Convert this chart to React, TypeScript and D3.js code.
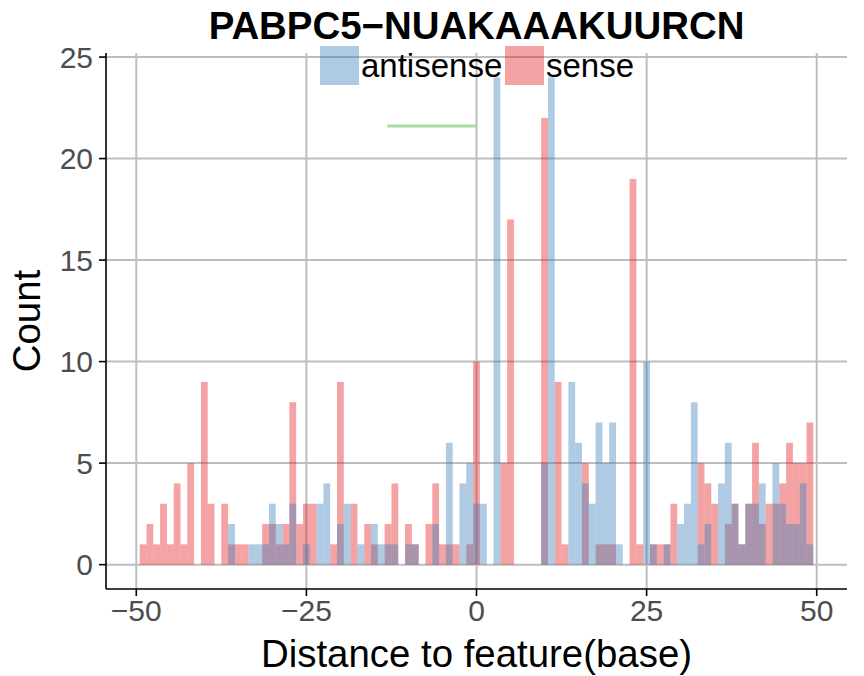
import { useEffect, useRef } from "react"
import * as d3 from "d3"

// bin centres -49 .. 49 (one base per bin)
const binStart = -49
const senseCounts = [
  1, 2, 1, 3, 1, 4, 1, 5, 0, 9, 3, 0, 3, 1, 1, 1, 0, 0, 2, 2, 1, 2, 8, 2, 3, 3, 0, 0, 1, 9, 0, 3, 0, 2, 1, 0, 2, 4, 0, 2, 1, 0, 2, 4, 1, 1, 1, 0, 1,
  10,
  0, 0, 0, 5, 17, 0, 0, 0, 0, 22, 0, 9, 1, 0, 0, 5, 0, 1, 1, 1, 0, 0, 19, 1, 0, 1, 1, 1, 3, 0, 0, 0, 5, 4, 3, 0, 2, 3, 1, 3, 6, 2, 3, 3, 4, 6, 5, 5, 7,
]
const antisenseCounts = [
  0, 0, 0, 0, 0, 0, 0, 0, 0, 0, 0, 0, 0, 2, 0, 0, 1, 1, 1, 3, 2, 1, 3, 0, 1, 0, 3, 4, 0, 2, 3, 0, 1, 0, 2, 1, 1, 1, 0, 1, 1, 0, 0, 2, 0, 6, 0, 4, 5,
  3,
  3, 0, 24, 0, 0, 0, 0, 0, 0, 5, 24, 0, 0, 9, 6, 4, 3, 7, 5, 7, 1, 0, 0, 0, 10, 1, 0, 1, 0, 2, 3, 8, 1, 2, 0, 4, 6, 3, 1, 3, 3, 4, 0, 5, 3, 2, 2, 4, 1,
]
const featureSegment = [{ from: -13.1, to: 0, count: 21.6 }]

const xTicks = [-50, -25, 0, 25, 50]
const yTicks = [0, 5, 10, 15, 20, 25]
const seriesNames = ["antisense", "sense"]
const seriesColors: Record<string, string> = { antisense: "#377EB8", sense: "#E41A1C" }

const fmt = (v: number) => (v < 0 ? "\u2212" + Math.abs(v) : String(v))

export default function App() {
  const svgRef = useRef<SVGSVGElement>(null)

  useEffect(() => {
    if (!svgRef.current) return
    const svg = d3.select(svgRef.current)
    svg.selectAll("*").remove()

    const width = 864
    const height = 676
    const left = 106
    const right = 847
    const top = 53
    const bottom = 589
    const font = "'Liberation Sans', Arial, sans-serif"

    svg.attr("width", width).attr("height", height)

    const x = d3.scaleLinear().domain([-54.45, 54.45]).range([left, right])
    const y = d3.scaleLinear().domain([-1.2, 25.2]).range([bottom, top])

    svg.append("rect").attr("width", width).attr("height", height).style("fill", "white")

    // grid
    const grid = svg.append("g")
    yTicks.forEach((t) => {
      grid.append("line")
        .attr("x1", left).attr("x2", right)
        .attr("y1", y(t)).attr("y2", y(t))
        .style("stroke", "#bebebe").style("stroke-width", 2)
    })
    xTicks.forEach((t) => {
      grid.append("line")
        .attr("x1", x(t)).attr("x2", x(t))
        .attr("y1", top).attr("y2", bottom)
        .style("stroke", "#bebebe").style("stroke-width", 2)
    })

    // bars: sense first, antisense on top
    const drawBars = (counts: number[], color: string) => {
      svg.append("g")
        .selectAll("rect")
        .data(counts.map((c, i) => ({ pos: binStart + i, c })).filter((d) => d.c > 0))
        .join("rect")
        .attr("x", (d) => x(d.pos - 0.5))
        .attr("width", (d) => x(d.pos + 0.5) - x(d.pos - 0.5))
        .attr("y", (d) => y(d.c))
        .attr("height", (d) => y(0) - y(d.c))
        .style("fill", color)
        .style("fill-opacity", 0.4)
    }
    drawBars(senseCounts, seriesColors.sense)
    drawBars(antisenseCounts, seriesColors.antisense)

    // feature segment
    featureSegment.forEach((s) => {
      svg.append("line")
        .attr("x1", x(s.from)).attr("x2", x(s.to))
        .attr("y1", y(s.count)).attr("y2", y(s.count))
        .style("stroke", "#a6dba0").style("stroke-width", 3)
    })

    // axes lines
    svg.append("line").attr("x1", left).attr("x2", left).attr("y1", top).attr("y2", bottom)
      .style("stroke", "black").style("stroke-width", 1.6)
    svg.append("line").attr("x1", left).attr("x2", right).attr("y1", bottom).attr("y2", bottom)
      .style("stroke", "black").style("stroke-width", 1.6)

    yTicks.forEach((t) => {
      svg.append("line").attr("x1", left - 7).attr("x2", left).attr("y1", y(t)).attr("y2", y(t))
        .style("stroke", "black").style("stroke-width", 1.6)
      svg.append("text")
        .attr("x", left - 13).attr("y", y(t))
        .attr("text-anchor", "end").attr("dominant-baseline", "central")
        .style("font-family", font).style("font-size", "30px").style("fill", "#4d4d4d")
        .text(fmt(t))
    })
    xTicks.forEach((t) => {
      svg.append("line").attr("x1", x(t)).attr("x2", x(t)).attr("y1", bottom).attr("y2", bottom + 7)
        .style("stroke", "black").style("stroke-width", 1.6)
      svg.append("text")
        .attr("x", x(t)).attr("y", bottom + 32)
        .attr("text-anchor", "middle")
        .style("font-family", font).style("font-size", "30px").style("fill", "#4d4d4d")
        .text(fmt(t))
    })

    // titles
    svg.append("text")
      .attr("x", (left + right) / 2).attr("y", 39)
      .attr("text-anchor", "middle")
      .style("font-family", font).style("font-size", "38.4px").style("font-weight", "bold")
      .text("PABPC5\u2212NUAKAAAKUURCN")

    svg.append("text")
      .attr("x", (left + right) / 2).attr("y", 667)
      .attr("text-anchor", "middle")
      .style("font-family", font).style("font-size", "38.4px")
      .text("Distance to feature(base)")

    svg.append("text")
      .attr("transform", `translate(40, ${(top + bottom) / 2}) rotate(-90)`)
      .attr("text-anchor", "middle")
      .style("font-family", font).style("font-size", "38.4px")
      .text("Count")

    // legend
    const legendX = [320, 505]
    seriesNames.forEach((name, i) => {
      svg.append("rect")
        .attr("x", legendX[i]).attr("y", 46).attr("width", 39).attr("height", 39)
        .style("fill", seriesColors[name]).style("fill-opacity", 0.4)
      svg.append("text")
        .attr("x", legendX[i] + 41).attr("y", 77)
        .style("font-family", font).style("font-size", "33px")
        .text(name)
    })
  }, [])

  return (
    <div style={{ position: "absolute", left: 0, top: 0 }}>
      <svg ref={svgRef} />
    </div>
  )
}
